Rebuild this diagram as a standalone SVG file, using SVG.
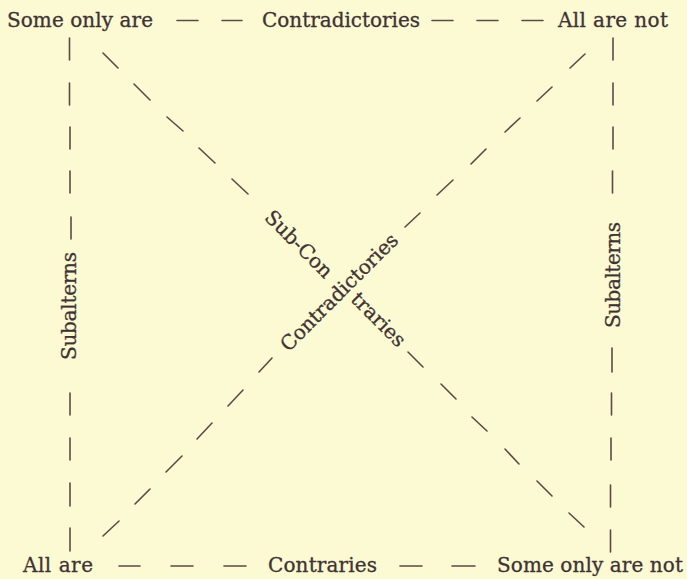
<svg xmlns="http://www.w3.org/2000/svg" width="687" height="579" viewBox="0 0 687 579">
<style>
  .t { font-family: "DejaVu Serif", "Liberation Serif", serif; font-size: 20px; fill: #403234; stroke: #403234; stroke-width: 0.3; }
  .c { text-anchor: middle; }
  .d { fill: none; stroke: #5a4b49; stroke-width: 1.6; stroke-linecap: round; }
</style>
<rect width="687" height="579" fill="#fcfad2"/>
<g id="connectors">
  <path id="top-contradictories" class="d" d="M177,20.5H198M222,20.5H242M432,20.5H453M477,20.5H498M522,20.5H543"/>
  <path id="bottom-contraries" class="d" d="M119,566H140M171,566H193M224,566H246M400,566H422M452,566H475"/>
  <path id="left-subalterns" class="d" d="M69.5,38V60M69.5,83V105M70,127V149M70,171V193M71,217V239M70,393V415M70,438V460M70,483V506M70,528V551"/>
  <path id="right-subalterns" class="d" d="M613,38V60M613,83V105M613,127V149M612.5,171V193M612,348V372M611.5,393V415M611,438V460M610.5,485V507M610.5,530V552"/>
  <path id="diag-subcontraries" class="d" d="M103,53L118,68M134,84L150,100M167,117L183,131M199,148L215,163M232,179L248,194M408,352L423,367M441,384L456,399M472,417L487,431M505,449L519,464M537,481L552,496M569,513L584,527"/>
  <path id="diag-contradictories" class="d" d="M103,536L119,521M135,504L150,489M166,472L182,456M197,439L212,423M228,406L243,390M259,372L272,358M405,227L420,213M437,195L453,180M471,164L486,149M505,132L520,118M537,101L552,87M570,68L585,54"/>
  <text class="t c" transform="translate(69,306) rotate(-90)" dy="7" textLength="108">Subalterns</text>
  <text class="t c" transform="translate(613,275) rotate(-90)" dy="7" textLength="106">Subalterns</text>
  <text class="t" x="262" y="27" textLength="158">Contradictories</text>
  <text class="t" x="268" y="572" textLength="109">Contraries</text>
  <text class="t c" transform="translate(299,244) rotate(45)" dy="7">Sub-Con</text>
  <text class="t c" transform="translate(378,320) rotate(45)" dy="6">traries</text>
  <text class="t c" transform="translate(339,292) rotate(-45)" dy="7" textLength="157">Contradictories</text>
</g>
<g id="node-some-only-are"><text class="t" x="7" y="27" textLength="146">Some only are</text></g>
<g id="node-all-are-not"><text class="t" x="558" y="27" textLength="110">All are not</text></g>
<g id="node-all-are"><text class="t" x="23" y="572" textLength="70">All are</text></g>
<g id="node-some-only-are-not"><text class="t" x="497" y="572" textLength="186">Some only are not</text></g>
</svg>
